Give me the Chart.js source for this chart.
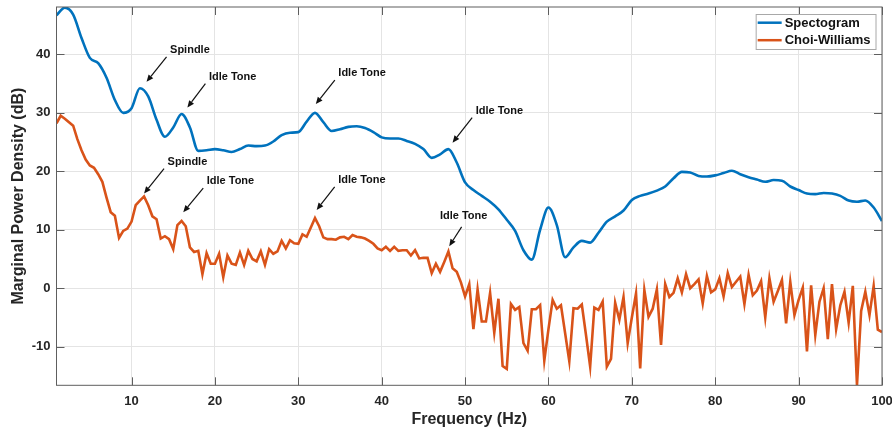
<!DOCTYPE html>
<html>
<head>
<meta charset="utf-8">
<title>Marginal Power Density</title>
<script src="https://cdn.jsdelivr.net/npm/chart.js@4.4.1/dist/chart.umd.min.js"></script>
<style>
    html, body { margin: 0; padding: 0; background: #ffffff; }
    #wrap { width: 892px; height: 433px; position: relative; }
</style>
</head>
<body>
<div id="wrap"><canvas id="psdChart"></canvas></div>
<script>
// ========================================
// DATA
// ========================================
const freqStartHz = 1;
const spectStepHz = 1;     // spectrogram marginal, one value per Hz
const choiStepHz = 0.5;    // Choi-Williams marginal, one value per 0.5 Hz

const spectogramDb = [
    46.7, 48.0, 46.8, 42.8, 39.4, 38.5, 36.0, 32.2, 30.0, 30.8,
    34.2, 32.8, 28.8, 25.9, 27.5, 29.8, 27.5, 23.5, 23.6, 23.8,
    23.6, 23.3, 23.8, 24.4, 24.3, 24.4, 25.1, 26.2, 26.6, 26.7,
    28.5, 30.0, 28.4, 26.9, 27.2, 27.6, 27.7, 27.4, 26.7, 25.8,
    25.6, 25.6, 25.2, 24.7, 23.8, 22.3, 22.9, 23.8, 21.5, 18.1,
    16.8, 15.8, 14.8, 13.5, 11.7, 9.8, 6.5, 4.9, 10.0, 13.8,
    10.8, 5.3, 7.0, 8.1, 7.8, 9.5, 11.4, 12.3, 13.3, 15.1,
    15.8, 16.2, 16.7, 17.4, 18.8, 19.9, 19.8, 19.2, 19.1, 19.3,
    19.7, 20.1, 19.5, 19.0, 18.6, 18.2, 18.5, 18.4, 17.4, 16.8,
    16.2, 16.1, 16.3, 16.2, 15.8, 15.0, 14.8, 15.0, 13.8, 11.5
];

const choiWilliamsDb = [
    28.2, 29.5, 29.0, 28.4, 27.8, 25.5, 23.6, 22.0, 21.0, 20.6,
    19.5, 18.2, 15.5, 13.0, 12.4, 8.6, 9.8, 10.2, 11.4, 14.2,
    15.0, 15.7, 14.2, 12.3, 11.8, 8.5, 8.9, 8.4, 6.7, 10.8,
    11.5, 10.6, 7.0, 6.2, 6.4, 2.4, 6.0, 4.2, 4.2, 5.9,
    1.9, 5.6, 4.2, 4.0, 6.1, 4.0, 6.4, 5.0, 4.6, 6.3,
    4.0, 6.7, 5.9, 6.3, 8.1, 6.8, 8.2, 7.7, 7.6, 9.2,
    8.8, 10.4, 12.0, 10.6, 8.7, 8.4, 8.4, 8.3, 8.7, 8.8,
    8.4, 9.1, 8.8, 8.7, 8.5, 8.1, 7.6, 6.8, 6.5, 7.1,
    6.4, 7.1, 6.4, 6.5, 6.5, 5.6, 6.5, 5.1, 5.2, 5.2,
    2.6, 4.2, 2.8, 4.5, 6.3, 3.4, 2.8, 1.0, -1.4, 0.7,
    -7.0, -0.2, -5.7, -5.7, -0.8, -7.6, -1.8, -13.3, -13.8, -2.7,
    -3.7, -3.2, -9.4, -10.7, -3.6, -3.6, -2.9, -12.4, -7.0, -2.0,
    -3.5, -2.9, -7.7, -12.5, -3.4, -3.5, -2.8, -8.0, -13.4, -3.3,
    -3.7, -2.3, -13.4, -12.1, -2.5, -5.4, -1.5, -9.4, -5.0, -0.9,
    -13.7, -0.3, -4.9, -3.5, -0.2, -9.7, 0.7, -1.5, -0.8, 1.7,
    -0.7, 2.4, 0.0, 0.7, 1.5, -2.6, 2.1, -0.7, -0.2, 1.7,
    -1.4, 2.6, 0.2, 1.1, 2.0, -2.7, 2.3, -1.2, -0.4, 1.2,
    -5.0, 1.7, -2.3, -0.5, 1.4, -6.0, 1.1, -4.6, -2.0, 0.1,
    -10.8, 0.5, -8.0, -2.3, 0.0, -8.7, 0.7, -7.0, -2.9, -0.6,
    -5.9, 0.4, -16.6, -3.9, -0.6, -4.6, 0.4, -7.1, -7.5
];

const seriesNames = ['Spectogram', 'Choi-Williams'];

const freqTicks = [10, 20, 30, 40, 50, 60, 70, 80, 90, 100];
const powerTicks = [-10, 0, 10, 20, 30, 40];

// peak annotations: label text and the point each arrow points at (Hz, dB)
const noteTexts = ['Spindle', 'Idle Tone', 'Idle Tone', 'Idle Tone',
                   'Spindle', 'Idle Tone', 'Idle Tone', 'Idle Tone'];
const noteHz = [11.8, 16.7, 32.1, 48.5, 11.5, 16.2, 32.2, 48.1];
const noteDb = [35.3, 30.9, 31.5, 24.9, 16.2, 13.0, 13.4, 7.2];

// ========================================
// STYLE
// ========================================
const FONT = '"Liberation Sans", Arial, Helvetica, sans-serif';
const TEXT_COLOR = '#262626';
const BLUE = '#0072BD';
const ORANGE = '#D95319';
const FRAME_COLOR = '#5e5e5e';

function toPoints(values, step) {
    return values.map((v, i) => ({ x: freqStartHz + i * step, y: v }));
}

// ========================================
// PLUGINS
// ========================================
// MATLAB style box with inward tick marks on all four sides
const framePlugin = {
    id: 'frame',
    afterDraw(chart) {
        const { ctx, chartArea: a, scales: { x, y } } = chart;
        const len = 8;
        ctx.save();
        ctx.strokeStyle = FRAME_COLOR;
        ctx.lineWidth = 1;
        ctx.strokeRect(a.left, a.top, a.right - a.left, a.bottom - a.top);
        ctx.beginPath();
        freqTicks.forEach(v => {
            const px = Math.round(x.getPixelForValue(v)) + 0.5;
            ctx.moveTo(px, a.bottom); ctx.lineTo(px, a.bottom - len);
            ctx.moveTo(px, a.top); ctx.lineTo(px, a.top + len);
        });
        powerTicks.forEach(v => {
            const py = Math.round(y.getPixelForValue(v)) + 0.5;
            ctx.moveTo(a.left, py); ctx.lineTo(a.left + len, py);
            ctx.moveTo(a.right, py); ctx.lineTo(a.right - len, py);
        });
        ctx.stroke();
        ctx.restore();
    }
};

// arrows + text labels pointing at the peaks
const notesPlugin = {
    id: 'peakNotes',
    afterDatasetsDraw(chart, args, opts) {
        const { ctx, scales: { x, y } } = chart;
        ctx.save();
        ctx.font = 'bold 11px ' + FONT;
        ctx.fillStyle = '#111111';
        ctx.strokeStyle = '#111111';
        ctx.lineWidth = 1.2;
        noteTexts.forEach((text, i) => {
            const tipX = x.getPixelForValue(noteHz[i]);
            const tipY = y.getPixelForValue(noteDb[i]);
            const off = opts.offsets[i];
            const tailX = tipX + off[0];
            const tailY = tipY + off[1];
            const ang = Math.atan2(tipY - tailY, tipX - tailX);
            const headLen = 7, headW = 3;
            const baseX = tipX - headLen * Math.cos(ang);
            const baseY = tipY - headLen * Math.sin(ang);

            ctx.beginPath();
            ctx.moveTo(tailX, tailY);
            ctx.lineTo(baseX, baseY);
            ctx.stroke();

            ctx.beginPath();
            ctx.moveTo(tipX, tipY);
            ctx.lineTo(baseX + headW * Math.sin(ang), baseY - headW * Math.cos(ang));
            ctx.lineTo(baseX - headW * Math.sin(ang), baseY + headW * Math.cos(ang));
            ctx.closePath();
            ctx.fill();

            ctx.textBaseline = 'middle';
            if (off[2] === 'center') {
                ctx.textAlign = 'center';
                ctx.fillText(text, tailX + 2, tailY - 10.5);
            } else {
                ctx.textAlign = 'left';
                ctx.fillText(text, tailX + 3.5, tailY - 7);
            }
        });
        ctx.restore();
    }
};

// legend box in the top right corner of the axes
const legendBoxPlugin = {
    id: 'legendBox',
    afterDraw(chart) {
        const { ctx, chartArea: a } = chart;
        ctx.save();
        ctx.font = 'bold 13px ' + FONT;
        const textW = Math.max(...chart.data.datasets.map(d => ctx.measureText(d.label).width));
        const lineLen = 24, rowH = 17.5;
        const boxW = 2 + lineLen + 3 + textW + 5;
        const boxH = 35;
        const boxX = a.right - 6.5 - boxW;
        const boxY = a.top + 7;

        ctx.fillStyle = '#ffffff';
        ctx.fillRect(boxX, boxY, boxW, boxH);
        ctx.strokeStyle = '#a8a8a8';
        ctx.lineWidth = 1;
        ctx.strokeRect(boxX + 0.5, boxY + 0.5, boxW, boxH);

        chart.data.datasets.forEach((d, i) => {
            const cy = boxY + 8.7 + i * rowH;
            ctx.strokeStyle = d.borderColor;
            ctx.lineWidth = 2.5;
            ctx.beginPath();
            ctx.moveTo(boxX + 2, cy);
            ctx.lineTo(boxX + 2 + lineLen, cy);
            ctx.stroke();
            ctx.fillStyle = '#111111';
            ctx.textAlign = 'left';
            ctx.textBaseline = 'middle';
            ctx.fillText(d.label, boxX + 2 + lineLen + 3, cy + 0.5);
        });
        ctx.restore();
    }
};

// ========================================
// CHART
// ========================================
function initializePsdChart() {
    const ctx = document.getElementById('psdChart');

    new Chart(ctx, {
        type: 'line',
        data: {
            datasets: [{
                label: seriesNames[0],
                data: toPoints(spectogramDb, spectStepHz),
                borderColor: BLUE,
                borderWidth: 2.6,
                pointRadius: 0,
                cubicInterpolationMode: 'monotone',
                fill: false
            }, {
                label: seriesNames[1],
                data: toPoints(choiWilliamsDb, choiStepHz),
                borderColor: ORANGE,
                borderWidth: 2.6,
                pointRadius: 0,
                tension: 0,
                fill: false
            }]
        },
        options: {
            responsive: true,
            maintainAspectRatio: false,
            animation: false,
            layout: { padding: { top: 7, right: 10, left: 0, bottom: 0 } },
            plugins: {
                legend: { display: false },
                tooltip: { enabled: false },
                peakNotes: {
                    offsets: [[20, -25], [18, -24], [19, -24], [19.6, -25],
                              [20, -25], [20, -24], [18, -23], [12.4, -19.3, 'center']]
                }
            },
            scales: {
                x: {
                    type: 'linear',
                    min: 1,
                    max: 100,
                    afterBuildTicks: scale => { scale.ticks = freqTicks.map(v => ({ value: v })); },
                    afterFit: scale => {
                        scale.height = 47.7;
                        scale.paddingLeft = 0;
                        scale.paddingRight = 0;
                    },
                    ticks: {
                        color: TEXT_COLOR,
                        padding: 8,
                        maxRotation: 0,
                        font: { family: FONT, size: 13, weight: 'bold' }
                    },
                    grid: { color: '#e4e4e4', drawTicks: false },
                    border: { display: false },
                    title: {
                        display: true,
                        text: 'Frequency (Hz)',
                        color: TEXT_COLOR,
                        padding: { top: 0, bottom: 4 },
                        font: { family: FONT, size: 16, weight: 'bold' }
                    }
                },
                y: {
                    type: 'linear',
                    min: -16.6,
                    max: 48.1,
                    afterBuildTicks: scale => { scale.ticks = powerTicks.map(v => ({ value: v })); },
                    afterFit: scale => {
                        scale.width = 56.5;
                        scale.paddingTop = 0;
                        scale.paddingBottom = 0;
                    },
                    ticks: {
                        color: TEXT_COLOR,
                        padding: 6,
                        font: { family: FONT, size: 13, weight: 'bold' }
                    },
                    grid: { color: '#e4e4e4', drawTicks: false },
                    border: { display: false },
                    title: {
                        display: true,
                        text: 'Marginal Power Density (dB)',
                        color: TEXT_COLOR,
                        padding: { top: 9, bottom: 0 },
                        font: { family: FONT, size: 16, weight: 'bold' }
                    }
                }
            }
        },
        plugins: [framePlugin, notesPlugin, legendBoxPlugin]
    });
}

initializePsdChart();
</script>
</body>
</html>
